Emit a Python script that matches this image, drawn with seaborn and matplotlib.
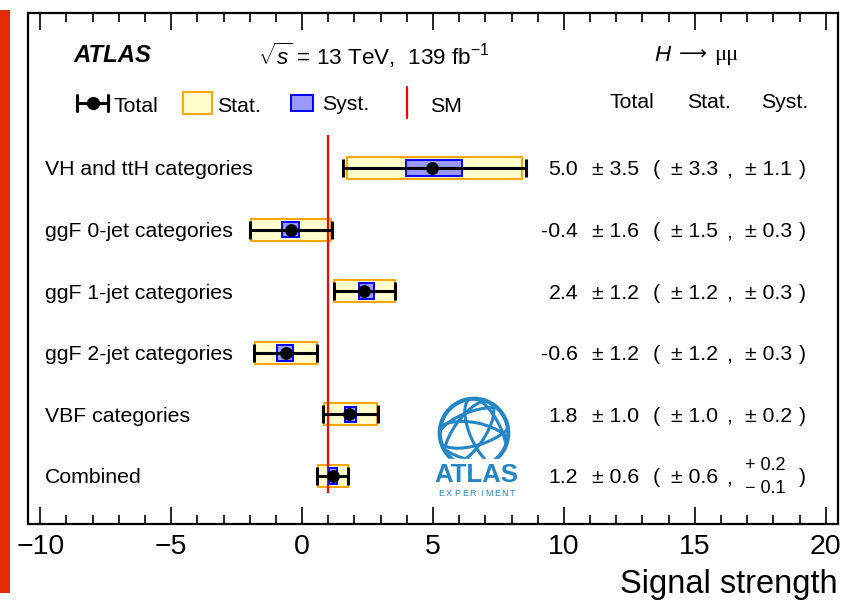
import matplotlib
matplotlib.use("Agg")
import numpy as np
import pandas as pd
import seaborn as sns
import matplotlib.pyplot as plt
import matplotlib.transforms as mtransforms
from matplotlib.patches import Rectangle, Arc, Ellipse, Circle
from matplotlib.lines import Line2D
from matplotlib.ticker import MultipleLocator

# ---------------- data ----------------
categories = ["VH and ttH categories", "ggF 0-jet categories", "ggF 1-jet categories",
              "ggF 2-jet categories", "VBF categories", "Combined"]
mu = np.array([4.95, -0.42, 2.37, -0.61, 1.81, 1.17])
tot_lo = np.array([3.37, 1.57, 1.16, 1.22, 1.00, 0.59])
tot_hi = np.array([3.59, 1.58, 1.19, 1.19, 1.09, 0.60])
stat_lo = np.array([3.22, 1.53, 1.14, 1.19, 0.97, 0.56])
stat_hi = np.array([3.44, 1.54, 1.16, 1.17, 1.05, 0.60])
syst_lo = np.array([0.97, 0.33, 0.20, 0.35, 0.16, 0.13])
syst_hi = np.array([1.15, 0.32, 0.36, 0.25, 0.23, 0.18])
sm_value = 1.0

val_txt = ["5.0", "-0.4", "2.4", "-0.6", "1.8", "1.2"]
tot_txt = ["3.5", "1.6", "1.2", "1.2", "1.0", "0.6"]
stat_txt = ["3.3", "1.5", "1.2", "1.2", "1.0", "0.6"]
syst_txt = ["1.1", "0.3", "0.3", "0.3", "0.2", None]
syst_comb_up = "0.2"
syst_comb_dn = "0.1"

xticks_major = [-10, -5, 0, 5, 10, 15, 20]

# ---------------- style ----------------
sns.set_theme(style="ticks")
plt.rcParams['font.family'] = ['Liberation Sans', 'DejaVu Sans']
plt.rcParams['mathtext.fontset'] = 'custom'
plt.rcParams['mathtext.rm'] = 'Liberation Sans'
plt.rcParams['mathtext.it'] = 'Liberation Sans:italic'
plt.rcParams['mathtext.bf'] = 'Liberation Sans:bold'
for key in ('text.color', 'axes.labelcolor', 'xtick.color', 'ytick.color', 'axes.edgecolor'):
    plt.rcParams[key] = 'black'

W, H = 842, 600
fig = plt.figure(figsize=(W / 100, H / 100), dpi=100)
ax = fig.add_axes([28 / W, 1 - 524 / H, 810 / W, 511 / H])

def P(x, y):
    return (x / W, 1 - y / H)

ypos = np.arange(len(categories))
df = pd.DataFrame({"category": categories, "mu": mu, "y": ypos})

# stat boxes
ax.barh(ypos, width=stat_lo + stat_hi, left=mu - stat_lo, height=0.357,
        color='#ffffcc', edgecolor='#ffa500', linewidth=1.4, zorder=2)
# SM line
ax.vlines(sm_value, -0.536, 5.28, color='#ff0000', linewidth=1.6, zorder=2.5)
# syst boxes
ax.barh(ypos, width=syst_lo + syst_hi, left=mu - syst_lo, height=0.255,
        color='#9999ff', edgecolor='#0000ff', linewidth=1.4, zorder=3)
# total error bars
ax.errorbar(mu, ypos, xerr=[tot_lo, tot_hi], fmt='none', ecolor='black',
            elinewidth=2.2, capsize=6.5, capthick=2.2, zorder=4)
sns.scatterplot(data=df, x="mu", y="y", color='black', s=85, edgecolor='black',
                linewidth=0, zorder=5, ax=ax, legend=False)

ax.set_xlim(-10.47, 20.47)
ax.set_ylim(5.78, -2.516)
ax.set_yticks([])
ax.set_ylabel("")
ax.set_xticks(xticks_major)
ax.xaxis.set_minor_locator(MultipleLocator(1))
ax.tick_params(axis='x', which='both', direction='in', top=True, bottom=True,
               labelsize=20.5, width=1.2, pad=7, colors='black')
ax.tick_params(axis='x', which='major', length=12.5)
ax.tick_params(axis='x', which='minor', length=6.5)
for sp in ax.spines.values():
    sp.set_linewidth(1.6)
    sp.set_color('black')
ax.set_xlabel("Signal strength", loc='right', fontsize=23.5, labelpad=7)

# row texts
trans = mtransforms.blended_transform_factory(fig.transFigure, ax.transData)
fs = 15.3
va = 'center_baseline'
for i, cat in enumerate(categories):
    ax.text(45 / W, i, cat, transform=trans, ha='left', va=va, fontsize=fs)
    ax.text(578 / W, i, val_txt[i], transform=trans, ha='right', va=va, fontsize=fs)
    ax.text(592 / W, i, "± " + tot_txt[i], transform=trans, ha='left', va=va, fontsize=fs)
    ax.text(653 / W, i, "(", transform=trans, ha='left', va=va, fontsize=fs)
    ax.text(671 / W, i, "± " + stat_txt[i], transform=trans, ha='left', va=va, fontsize=fs)
    ax.text(726 / W, i, ",", transform=trans, ha='left', va=va, fontsize=fs)
    ax.text(799 / W, i, ")", transform=trans, ha='left', va=va, fontsize=fs)
    if syst_txt[i] is not None:
        ax.text(745 / W, i, "± " + syst_txt[i], transform=trans, ha='left', va=va, fontsize=fs)
    else:
        ax.text(745 / W, i - 0.21, "+ " + syst_comb_up, transform=trans, ha='left', va=va, fontsize=13)
        ax.text(745 / W, i + 0.17, "− " + syst_comb_dn, transform=trans, ha='left', va=va, fontsize=13)

# header
fig.text(*P(73, 53), "ATLAS", fontsize=17.2, fontweight='bold', fontstyle='italic',
         ha='left', va='center_baseline')
fig.text(*P(258, 53), r"$\sqrt{s}$ = 13 TeV,  139 fb$^{\mathregular{-1}}$", fontsize=16.2,
         ha='left', va='center_baseline')
fig.text(*P(654, 53), r"$H$", fontsize=16.2, ha='left', va='center_baseline')
fig.text(*P(679, 52), "⟶", fontsize=14, ha='left', va='center_baseline',
         family=['DejaVu Sans'])
fig.text(*P(714, 53), "μμ", fontsize=16.2, ha='left', va='center_baseline',
         family=['Liberation Serif', 'DejaVu Serif'])

# manual legend
fig.add_artist(Line2D([77 / W, 108 / W], [1 - 103 / H] * 2, transform=fig.transFigure,
                      color='black', lw=2.2))
for xc in (77, 108):
    fig.add_artist(Line2D([xc / W] * 2, [1 - 95 / H, 1 - 111 / H], transform=fig.transFigure,
                          color='black', lw=2.2))
fig.add_artist(Line2D([93 / W], [1 - 103 / H], transform=fig.transFigure, marker='o',
                      markersize=8.5, color='black', lw=0))
fig.text(*P(113, 104), "Total", fontsize=fs, ha='left', va='center_baseline')
fig.add_artist(Rectangle(P(183, 114), 29 / W, 22 / H, transform=fig.transFigure,
                         facecolor='#ffffcc', edgecolor='#ffa500', lw=1.4))
fig.text(*P(217, 105), "Stat.", fontsize=fs, ha='left', va='center_baseline')
fig.add_artist(Rectangle(P(291, 111), 22 / W, 16 / H, transform=fig.transFigure,
                         facecolor='#9999ff', edgecolor='#0000ff', lw=1.4))
fig.text(*P(322, 103), "Syst.", fontsize=fs, ha='left', va='center_baseline')
fig.add_artist(Line2D([407 / W] * 2, [1 - 87 / H, 1 - 118 / H], transform=fig.transFigure,
                      color='#ff0000', lw=1.6))
fig.text(*P(430, 105), "SM", fontsize=fs, ha='left', va='center_baseline')

fig.text(*P(632, 101), "Total", fontsize=fs, ha='center', va='center_baseline')
fig.text(*P(709, 101), "Stat.", fontsize=fs, ha='center', va='center_baseline')
fig.text(*P(785, 101), "Syst.", fontsize=fs, ha='center', va='center_baseline')

# ATLAS experiment logo
blue = '#2586c6'
lax = fig.add_axes([436 / W, 1 - 470 / H, 76 / W, 74 / H])
lax.set_xlim(-1.08, 1.08)
lax.set_ylim(-1.08, 1.08)
lax.set_aspect('equal')
lax.axis('off')
clip = Circle((0, 0), 1.0, transform=lax.transData)
lax.add_patch(Arc((0, 0), 2.0, 2.0, theta1=-55, theta2=235, color=blue, lw=3.0))
for (cx, cy, w_, h_, ang) in [(0.05, 0.15, 2.3, 1.0, 18), (0.0, -0.25, 2.3, 1.1, -12),
                              (-0.15, 0.0, 0.9, 2.2, -35), (0.35, 0.0, 0.9, 2.2, 25)]:
    e = Ellipse((cx, cy), w_, h_, angle=ang, fill=False, edgecolor=blue, lw=2.2)
    lax.add_patch(e)
    e.set_clip_path(clip)
lax.add_patch(Rectangle((-1.1, -1.1), 2.2, 0.35, color='white', zorder=5))
fig.text(*P(476, 475), "ATLAS", fontsize=18.5, fontweight='bold', color=blue,
         ha='center', va='center')
for k, ch in enumerate("EXPERIMENT"):
    fig.text(*P(441 + k * 8.0, 494), ch, fontsize=6.5, color=blue, ha='center', va='center')

# red strip at the left edge
fig.add_artist(Rectangle(P(0, 593), 10 / W, 583 / H, transform=fig.transFigure,
                         facecolor='#e22b00', edgecolor='none'))

fig.savefig("out.png", dpi=100)
